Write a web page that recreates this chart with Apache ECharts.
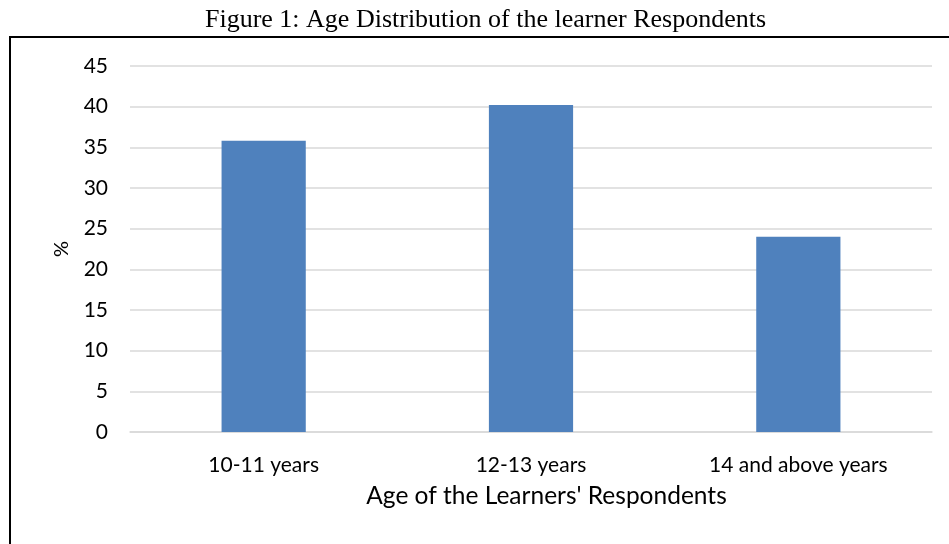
<!DOCTYPE html>
<html>
<head>
<meta charset="utf-8">
<script src="https://cdn.jsdelivr.net/npm/echarts@6/dist/echarts.min.js"></script>
<style>
html,body{margin:0;padding:0;background:#fff;}
#chart{width:949px;height:544px;}
</style>
</head>
<body>
<div id="chart"></div>
<script>
var categories = ['10-11 years', '12-13 years', '14 and above years'];
var values = [35.8, 40.2, 24.0];
var yTicks = { min: 0, max: 45, interval: 5 };
var titleText = 'Figure 1: Age Distribution of the learner Respondents';

var chart = echarts.init(document.getElementById('chart'), null, { renderer: 'canvas' });
var labelFont = 'Lato, "Open Sans", sans-serif';
chart.setOption({
  backgroundColor: '#fff',
  animation: false,
  graphic: [{
    type: 'rect',
    shape: { x: 10, y: 37, width: 960, height: 540 },
    style: { fill: 'none', stroke: '#000', lineWidth: 2 },
    silent: true
  }, {
    type: 'text',
    x: 485.5,
    y: 7,
    style: {
      text: titleText,
      fontFamily: '"Liberation Serif", serif',
      fontSize: 26,
      fill: '#000',
      align: 'center',
      verticalAlign: 'top'
    },
    silent: true
  }],
  grid: { left: 130, right: 17, top: 66, bottom: 112 },
  xAxis: {
    type: 'category',
    data: categories,
    name: "Age of the Learners' Respondents",
    nameLocation: 'middle',
    nameGap: 52,
    nameTextStyle: { fontFamily: labelFont, fontSize: 24.5, color: '#000', padding: [0, 0, 0, 31] },
    axisLine: { show: true, lineStyle: { color: '#d9d9d9', width: 1.5 } },
    axisTick: { show: false },
    axisLabel: { margin: 23, fontFamily: labelFont, fontSize: 21, color: '#000' }
  },
  yAxis: {
    type: 'value',
    min: yTicks.min,
    max: yTicks.max,
    interval: yTicks.interval,
    name: '%',
    nameLocation: 'middle',
    nameGap: 58,
    nameRotate: 90,
    nameTextStyle: { fontFamily: labelFont, fontSize: 20, color: '#000' },
    axisLine: { show: false },
    axisTick: { show: false },
    axisLabel: { margin: 22, fontFamily: labelFont, fontSize: 21, color: '#000' },
    splitLine: { lineStyle: { color: '#d9d9d9', width: 1.5 } }
  },
  series: [{
    type: 'bar',
    data: values,
    barWidth: '31.5%',
    itemStyle: { color: '#4f81bd' }
  }]
});
</script>
</body>
</html>
